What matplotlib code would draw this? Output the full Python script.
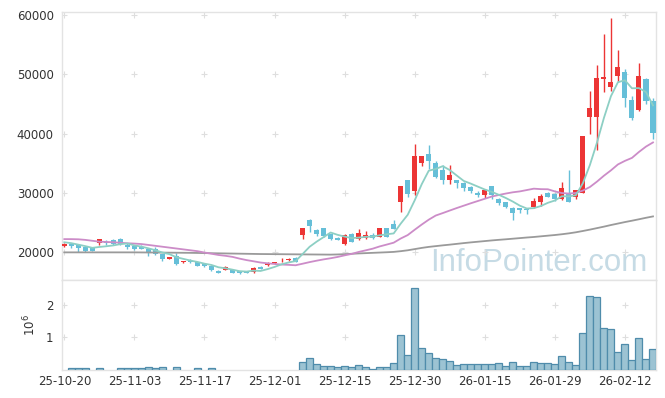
import numpy as np
import matplotlib
matplotlib.use('Agg')
import matplotlib.pyplot as plt

# 일별 시세 (시가, 고가, 저가, 종가) - 25-10-20 부터 85 거래일
opens = [21050, 21350, 21250, 20900, 20900, 21500, 21800, 22100, 22300, 21300,
         21100, 20950, 20600, 20500, 19700, 18950, 19400, 18300, 18600, 18350,
         18050, 17700, 16900, 17050, 17000, 16850, 16850, 16750, 17600, 17800,
         18200, 18650, 18650, 19100, 22900, 25450, 23750, 24050, 23050, 22450,
         21450, 23050, 22200, 22350, 23000, 22650, 24100, 24800, 28500, 32100,
         30350, 35050, 36500, 35050, 33900, 32150, 32100, 31750, 31000, 30000,
         29600, 31100, 28900, 28450, 27500, 27400, 27350, 27650, 28500, 30050,
         29900, 29050, 30000, 29250, 30000, 42850, 42850, 49100, 47900, 49750,
         50400, 45650, 43900, 49100, 45550]
highs = [21650, 21600, 21350, 20950, 20950, 22300, 22100, 22200, 22500, 21600,
         21300, 21200, 20800, 20850, 19750, 19300, 19900, 18600, 18800, 18450,
         18150, 17850, 16950, 17650, 17050, 16900, 16900, 17600, 17700, 18300,
         18450, 19050, 19000, 19150, 24150, 25650, 23850, 24100, 23100, 22550,
         23100, 23200, 23850, 23600, 23200, 24100, 24150, 25400, 31150, 32200,
         38300, 36250, 38000, 35300, 34700, 34700, 32200, 31800, 31100, 30300,
         30650, 31200, 29100, 28500, 27600, 27500, 27450, 29100, 29750, 30100,
         30000, 31850, 33800, 30500, 39550, 47200, 51550, 56750, 59450, 54050,
         50900, 46300, 51900, 49300, 45900]
lows = [20850, 20800, 20000, 20100, 20250, 21300, 21300, 21300, 21300, 20500,
        20400, 20500, 19400, 19600, 18600, 18800, 17800, 18200, 18200, 17650,
        17500, 16850, 16500, 16950, 16550, 16400, 16550, 16500, 17200, 17750,
        18100, 18400, 18600, 18350, 22250, 23350, 22700, 22600, 22150, 22050,
        21300, 21700, 22000, 22300, 22300, 22600, 22600, 23900, 26800, 29300,
        29700, 34500, 34100, 32500, 31500, 31500, 30800, 30300, 29950, 29300,
        29100, 28900, 27900, 27400, 25500, 26600, 26500, 27400, 27800, 29300,
        28600, 28800, 28500, 29000, 29950, 39850, 37150, 47050, 47200, 48600,
        44400, 42300, 43800, 45000, 39150]
closes = [21450, 21050, 20700, 20300, 20300, 22200, 21650, 21400, 21400, 20850,
          20550, 20650, 19950, 19800, 18900, 19200, 18050, 18550, 18400, 17750,
          17750, 16950, 16600, 17550, 16600, 16500, 16600, 17400, 17250, 18150,
          18350, 18780, 18950, 18400, 24100, 24450, 23100, 22800, 22250, 22150,
          23000, 21800, 23200, 22900, 22350, 24100, 22650, 23950, 31100, 29800,
          36300, 36200, 35300, 32600, 32150, 33000, 31600, 30750, 30350, 29650,
          30550, 29600, 28300, 27650, 26650, 27100, 27200, 28600, 29450, 29350,
          29050, 30750, 28500, 30450, 39500, 44350, 49400, 49450, 48750, 51250,
          45950, 42650, 49600, 45450, 40050]

# 이동평균선 (5일, 20일, 60일)
ma5 = [21700, 21550, 21300, 21050, 20760, 20910, 21030, 21170, 21390, 21500,
       21170, 20970, 20680, 20360, 19970, 19700, 19180, 18900, 18620, 18390,
       18100, 17880, 17490, 17320, 17090, 16840, 16770, 16930, 16870, 17180,
       17550, 17990, 18300, 18530, 19720, 20940, 21800, 22570, 23340, 22950,
       22660, 22400, 22480, 22610, 22650, 22870, 23040, 23190, 24830, 26320,
       28760, 31470, 33740, 34040, 34510, 33850, 32930, 32020, 31570, 31070,
       30580, 30180, 29690, 29150, 28550, 27860, 27380, 27440, 27800, 28340,
       28730, 29440, 29420, 29620, 31650, 34710, 38440, 42630, 46290, 48640,
       48960, 47610, 47640, 46980, 44740]
ma20 = [22230, 22230, 22200, 22100, 21950, 21800, 21750, 21700, 21620, 21530,
        21480, 21400, 21250, 21100, 20950, 20800, 20650, 20500, 20350, 20200,
        19970, 19770, 19560, 19420, 19240, 18950, 18700, 18500, 18290, 18160,
        18050, 17950, 17900, 17830, 18090, 18360, 18600, 18820, 19010, 19230,
        19500, 19740, 20070, 20340, 20620, 21000, 21310, 21630, 22330, 22910,
        23810, 24680, 25500, 26200, 26610, 27040, 27460, 27860, 28260, 28640,
        29020, 29400, 29660, 29900, 30110, 30260, 30490, 30720, 30640, 30620,
        30260, 29980, 29900, 30000, 30400, 31000, 31900, 32900, 33800, 34800,
        35400, 35900, 36900, 37800, 38500]
ma60 = [20000, 20000, 20000, 20000, 20000, 20000, 20000, 20000, 20000, 20000,
        20000, 19990, 19980, 19970, 19960, 19950, 19940, 19930, 19920, 19900,
        19880, 19860, 19840, 19820, 19800, 19780, 19760, 19740, 19720, 19710,
        19700, 19690, 19680, 19670, 19660, 19650, 19640, 19630, 19620, 19650,
        19700, 19760, 19820, 19870, 19920, 19970, 20020, 20080, 20200, 20350,
        20550, 20750, 20920, 21050, 21180, 21300, 21430, 21560, 21680, 21790,
        21900, 22010, 22110, 22200, 22300, 22400, 22500, 22590, 22700, 22810,
        22920, 23050, 23200, 23380, 23600, 23830, 24080, 24330, 24600, 24850,
        25100, 25330, 25570, 25820, 26050]

# 거래량 (주)
volume = [0, 50000, 50000, 50000, 0, 50000, 0, 0, 50000, 50000,
          50000, 50000, 80000, 50000, 80000, 0, 80000, 0, 0, 50000,
          0, 50000, 0, 0, 0, 0, 0, 0, 0, 0,
          0, 0, 0, 0, 220000, 360000, 170000, 100000, 100000, 70000,
          100000, 70000, 140000, 80000, 30000, 80000, 80000, 200000, 1070000, 450000,
          2510000, 660000, 500000, 360000, 310000, 250000, 140000, 170000, 170000, 170000,
          170000, 170000, 200000, 110000, 230000, 110000, 110000, 230000, 200000, 200000,
          170000, 420000, 230000, 140000, 1130000, 2280000, 2250000, 1280000, 1250000, 540000,
          790000, 290000, 970000, 320000, 630000]

tick_pos = [0, 10, 20, 30, 40, 50, 60, 70, 80]
tick_labels = ['25-10-20', '25-11-03', '25-11-17', '25-12-01', '25-12-15',
               '25-12-30', '26-01-15', '26-01-29', '26-02-12']
price_ticks = [20000, 30000, 40000, 50000, 60000]
vol_ticks = [1, 2]

RED = '#ec3535'
BLUE = '#66bfd8'
TXT = '#333333'
SPINE = '#e3e3e3'

o = np.array(opens, float)
h = np.array(highs, float)
l = np.array(lows, float)
c = np.array(closes, float)
v = np.array(volume, float) / 1e6
x = np.arange(len(o))

fig = plt.figure(figsize=(6.65, 3.98), dpi=100)
ax = fig.add_axes([62 / 665, 1 - 280 / 398, 594 / 665, 268 / 398])
axv = fig.add_axes([62 / 665, 1 - 369.5 / 398, 594 / 665, 89.5 / 398], sharex=ax)

# 캔들
cols = np.where(c >= o, RED, BLUE)
ax.vlines(x, l, h, colors=cols, lw=1.0, zorder=3)
ax.bar(x, np.maximum(np.abs(c - o), 90), bottom=np.minimum(o, c), width=0.72,
       color=cols, linewidth=0, zorder=4)

# 이동평균선
ax.plot(x, ma60, color='#9a9a9a', lw=1.3, zorder=5)
ax.plot(x, ma20, color='#cc8cc8', lw=1.3, zorder=5)
ax.plot(x, ma5, color='#8dcfc4', lw=1.3, zorder=5)

# 거래량
m = v > 0
axv.bar(x[m], v[m], width=1.0, color='#9cc3d3', edgecolor='#4f8cab',
        linewidth=0.9, zorder=3)

# 격자 대신 '+' 표시
for xt in tick_pos:
    for yt in price_ticks:
        ax.plot(xt, yt, marker='+', ms=5, mew=0.8, color='#dedede', zorder=1)
    for yt in vol_ticks:
        axv.plot(xt, yt, marker='+', ms=5, mew=0.8, color='#dedede', zorder=1)

ax.set_xlim(-0.33, 84.43)
ax.set_ylim(15350, 60450)
axv.set_ylim(0, 2.77)

ax.set_yticks(price_ticks)
ax.set_yticklabels([str(t) for t in price_ticks])
axv.set_yticks(vol_ticks)
axv.set_yticklabels(['1', '2'])
axv.set_xticks(tick_pos)
axv.set_xticklabels(tick_labels)
ax.tick_params(axis='x', labelbottom=False, length=0)
ax.tick_params(axis='y', length=0, pad=6, labelsize=8.5, labelcolor=TXT)
axv.tick_params(axis='y', length=0, pad=6, labelsize=8.5, labelcolor=TXT)
axv.tick_params(axis='x', length=0, pad=4, labelsize=8.5, labelcolor=TXT)

for a in (ax, axv):
    for s in a.spines.values():
        s.set_color(SPINE)
        s.set_linewidth(1.0)

fig.text(30 / 665, 1 - 325 / 398, r'$\mathregular{10^6}$', rotation=90,
         ha='center', va='center', fontsize=8.5, color=TXT)

# 워터마크
ax.text(430 / 665, 1 - 271 / 398, 'InfoPointer.com', transform=fig.transFigure,
        ha='left', va='baseline', fontsize=22.5, family='Liberation Sans',
        color='#c6dbe5', zorder=0.5)

fig.savefig('out.png', dpi=100, facecolor='white')
